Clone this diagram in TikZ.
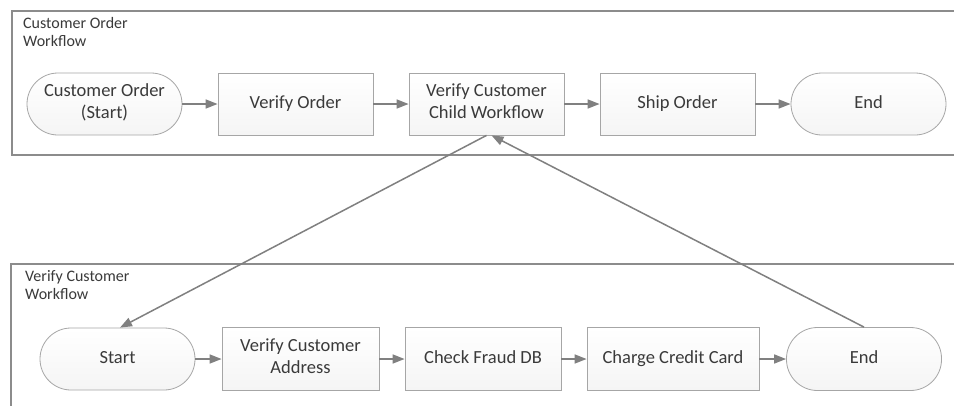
\documentclass[tikz,border=0pt]{standalone}
\usepackage{fontspec}
\setmainfont{Carlito}
\usetikzlibrary{arrows.meta}
\definecolor{ink}{HTML}{3A3A3A}
\definecolor{edge}{HTML}{A6A6A6}
\definecolor{frame}{HTML}{8C8C8C}
\definecolor{wire}{HTML}{808080}
\tikzset{
  stepbox/.style={draw=edge, line width=0.8pt, top color=white, bottom color=black!4,
    text=ink, minimum width=155pt, minimum height=62pt, inner sep=0pt, align=center,
    font=\fontsize{18.5}{22}\selectfont, execute at begin node=\strut},
  terminal/.style={stepbox, rounded corners=31pt},
  flow/.style={draw=wire, line width=1.5pt,
    -{Triangle[length=12pt,width=9pt]}},
  lanetitle/.style={anchor=north west, text=ink, align=left, inner sep=0pt,
    font=\fontsize{16}{18.5}\selectfont},
  lane/.style={draw=frame, line width=1.6pt}
}
\begin{document}
\begin{tikzpicture}[x=1pt,y=-1pt]
\clip (0,0) rectangle (954,405);
\fill[white] (0,0) rectangle (954,405);

% lane frames (open to the right / bottom)
\draw[lane] (960,11) -- (12,11) -- (12,155) -- (960,155);
\draw[lane] (960,264) -- (11,264) -- (11,410);

\node[lanetitle] (t1) at (23,17) {Customer Order\\Workflow};
\node[lanetitle] (t2) at (25,270) {Verify Customer\\Workflow};

% parent workflow
\node[terminal] (cstart) at (104.5,104) {Customer Order\\(Start)};
\node[stepbox]  (vorder) at (295.5,104) {Verify Order};
\node[stepbox]  (child)  at (486.5,104) {Verify Customer\\Child Workflow};
\node[stepbox]  (ship)   at (677.5,104) {Ship Order};
\node[terminal] (cend)   at (868.5,104) {End};

% child workflow
\node[terminal] (vstart) at (117.5,359) {Start};
\node[stepbox, minimum width=157pt, minimum height=63pt] (vaddr) at (300.5,359) {Verify Customer\\Address};
\node[stepbox, minimum width=156pt, minimum height=63pt] (fraud) at (483,359) {Check Fraud DB};
\node[stepbox, minimum width=172pt, minimum height=63pt] (card)  at (673,359) {Charge Credit Card};
\node[terminal, minimum height=63pt] (vend) at (864,359) {End};

% sequence connectors
\draw[flow] (cstart) -- (vorder);
\draw[flow] (vorder) -- (child);
\draw[flow] (child) -- (ship);
\draw[flow] (ship) -- (cend);
\draw[flow] (vstart) -- (vaddr);
\draw[flow] (vaddr) -- (fraud);
\draw[flow] (fraud) -- (card);
\draw[flow] (card) -- (vend);

% call into the child workflow and return
\draw[flow] (child.south) -- ([xshift=2.5pt]vstart.north);
\draw[flow] (vend.north) -- ([xshift=5pt]child.south);
\end{tikzpicture}
\end{document}
